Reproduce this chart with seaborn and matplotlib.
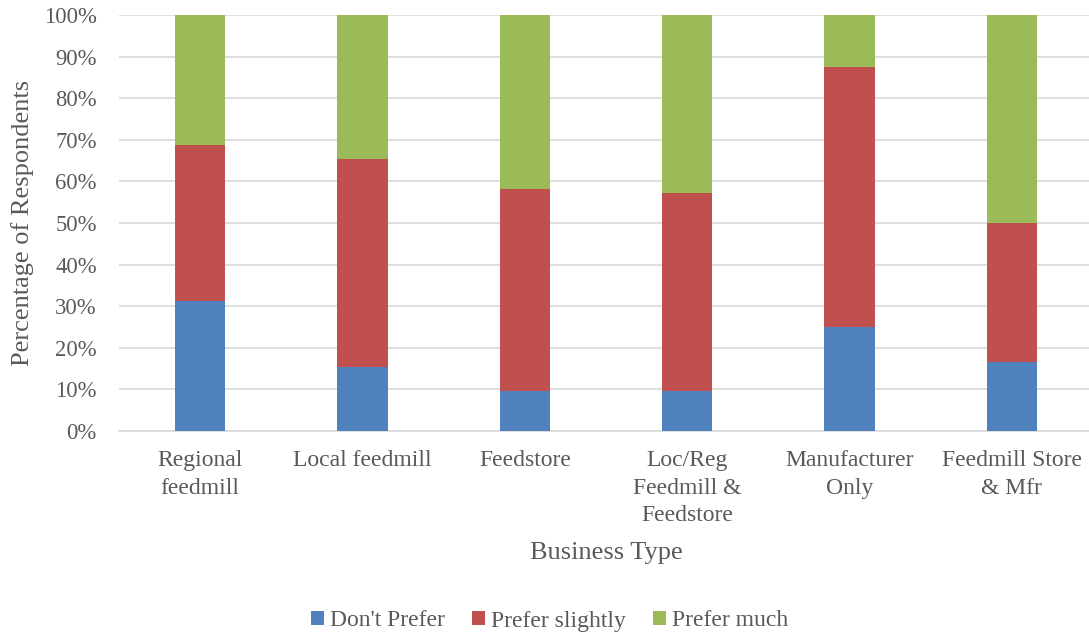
import matplotlib
matplotlib.use("Agg")
import matplotlib.pyplot as plt
from matplotlib.patches import Patch
from matplotlib.ticker import PercentFormatter, MultipleLocator
import pandas as pd
import seaborn as sns

# Share of respondents (%) per business type
categories = [
    "Regional\nfeedmill",
    "Local feedmill",
    "Feedstore",
    "Loc/Reg\nFeedmill &\nFeedstore",
    "Manufacturer\nOnly",
    "Feedmill Store\n& Mfr",
]
dont_prefer = [31.25, 15.38, 9.68, 9.52, 25.0, 16.67]
prefer_slightly = [37.50, 50.00, 48.39, 47.62, 62.5, 33.33]
prefer_much = [31.25, 34.62, 41.93, 42.86, 12.5, 50.00]

series_names = ["Don't Prefer", "Prefer slightly", "Prefer much"]
colors = ["#4F81BD", "#C0504D", "#9BBB59"]

sns.set_theme(style="white")
plt.rcParams["font.family"] = ["Liberation Serif", "DejaVu Serif"]
text_color = "#595959"
grid_color = "#D9D9D9"

df = pd.DataFrame({
    "category": categories,
    "dont": dont_prefer,
    "slightly": prefer_slightly,
    "much": prefer_much,
})
# cumulative tops for stacking
df["top_dont"] = df["dont"]
df["top_slightly"] = df["dont"] + df["slightly"]
df["top_much"] = df["top_slightly"] + df["much"]

fig = plt.figure(figsize=(10.89, 6.35), dpi=100)
ax = fig.add_axes([119 / 1089, 1 - 431 / 635, (1093 - 119) / 1089, 416 / 635])

bar_w = 0.31
# draw tallest stack first so lower segments sit on top
for col, color in zip(["top_much", "top_slightly", "top_dont"], colors[::-1]):
    sns.barplot(data=df, x="category", y=col, color=color, width=bar_w,
                saturation=1, ax=ax, zorder=3, linewidth=0)

ax.set_ylim(0, 100)
ax.set_xlim(-0.5, len(categories) - 0.5)
ax.yaxis.set_major_locator(MultipleLocator(10))
ax.yaxis.set_major_formatter(PercentFormatter(decimals=0))
ax.grid(axis="y", color=grid_color, linewidth=1.2, zorder=0)
ax.set_axisbelow(True)

for s in ["top", "right", "left"]:
    ax.spines[s].set_visible(False)
ax.spines["bottom"].set_color(grid_color)
ax.spines["bottom"].set_linewidth(1.2)

ax.tick_params(axis="y", length=0, pad=16, labelsize=16.3, labelcolor=text_color)
ax.tick_params(axis="x", length=0, pad=14, labelsize=17, labelcolor=text_color)
for lbl in ax.get_xticklabels():
    lbl.set_linespacing(1.4)

ax.set_xlabel("Business Type", fontsize=19, color=text_color)
ax.xaxis.set_label_coords(0.5, -0.266)
ax.set_ylabel("Percentage of Respondents", fontsize=19, color=text_color, labelpad=7)

handles = [Patch(facecolor=c, edgecolor="none", label=n) for c, n in zip(colors, series_names)]
fig.legend(handles=handles, loc="center", bbox_to_anchor=(0.505, 1 - 621 / 635), ncol=3,
           frameon=False, fontsize=17, labelcolor=text_color,
           handlelength=0.55, handleheight=0.55, handletextpad=0.25, columnspacing=1.15)

fig.savefig("out.png", dpi=100)
